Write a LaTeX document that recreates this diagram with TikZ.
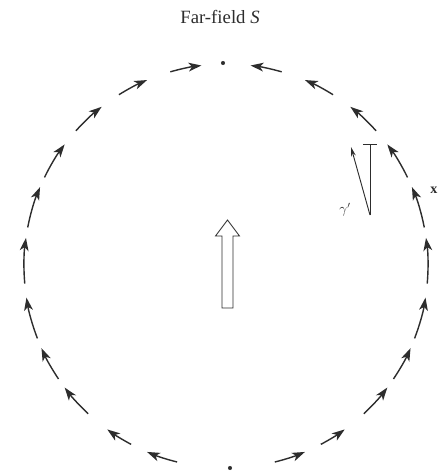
\documentclass[tikz,border=0pt]{standalone}
\usepackage{fontspec}
\setmainfont{Liberation Serif}
\usetikzlibrary{arrows.meta,calc}
\definecolor{ink}{RGB}{45,45,45}

\begin{document}
\begin{tikzpicture}[scale=0.03,
  flow/.style={ink,line width=1.2pt,-{Stealth[length=11pt,width=7.5pt,inset=3pt]}},
  dot/.style={circle,fill=ink,inner sep=0pt,minimum size=3.5pt}]

  \useasboundingbox (0,0) rectangle (444,472);
  \coordinate (c) at (226,206);

  \node[ink,font=\fontsize{16}{19}\selectfont] (title) at (220,455) {Far-field \textit{S}};

  \node[dot] (ntop) at (223,409) {};   % far point, top
  \node[dot] (nbot) at (230,4) {};     % far point, bottom

  % right half, bottom to top
  \foreach \a/\b in {-76/-67,-62/-54,-47/-37,-34/-24,-21/-9,-5/8,11/23,26/37,42/52,58/67,74/83}{
    \draw[flow] ($(c)+(\a:202)$) arc[start angle=\a,end angle=\b,radius=202];
  }
  % left half, mirrored
  \foreach \a/\b in {-76/-67,-62/-54,-47/-37,-34/-24,-21/-9,-5/8,11/23,26/37,42/52,58/67,74/83}{
    \draw[flow] ($(c)+(180-\a:202)$) arc[start angle=180-\a,end angle=180-\b,radius=202];
  }

  \node[ink,font=\large] (xlab) at (434,282) {$\mathbf{x}$};

  % local frame with gamma'
  \coordinate (gbot) at (370,257);
  \coordinate (gtop) at (370,328);
  \coordinate (gtip) at (351,325);
  \draw[ink,line width=0.8pt] (gbot) -- (gtop);
  \draw[ink,line width=0.8pt] ($(gtop)+(-7,0)$) -- ($(gtop)+(7,0)$);
  \draw[ink,line width=0.8pt,-{Stealth[length=8pt,width=4pt]}] (gbot) -- (gtip);
  \node[ink,font=\large] (glab) at (345,262) {$\gamma'$};

  % hollow arrow in the middle
  \draw[ink,fill=white,line width=0.7pt] (222,164) -- (233,164) -- (233,236) -- (239.5,236)
        -- (227.5,252) -- (215.5,236) -- (222,236) -- cycle;

\end{tikzpicture}
\end{document}
